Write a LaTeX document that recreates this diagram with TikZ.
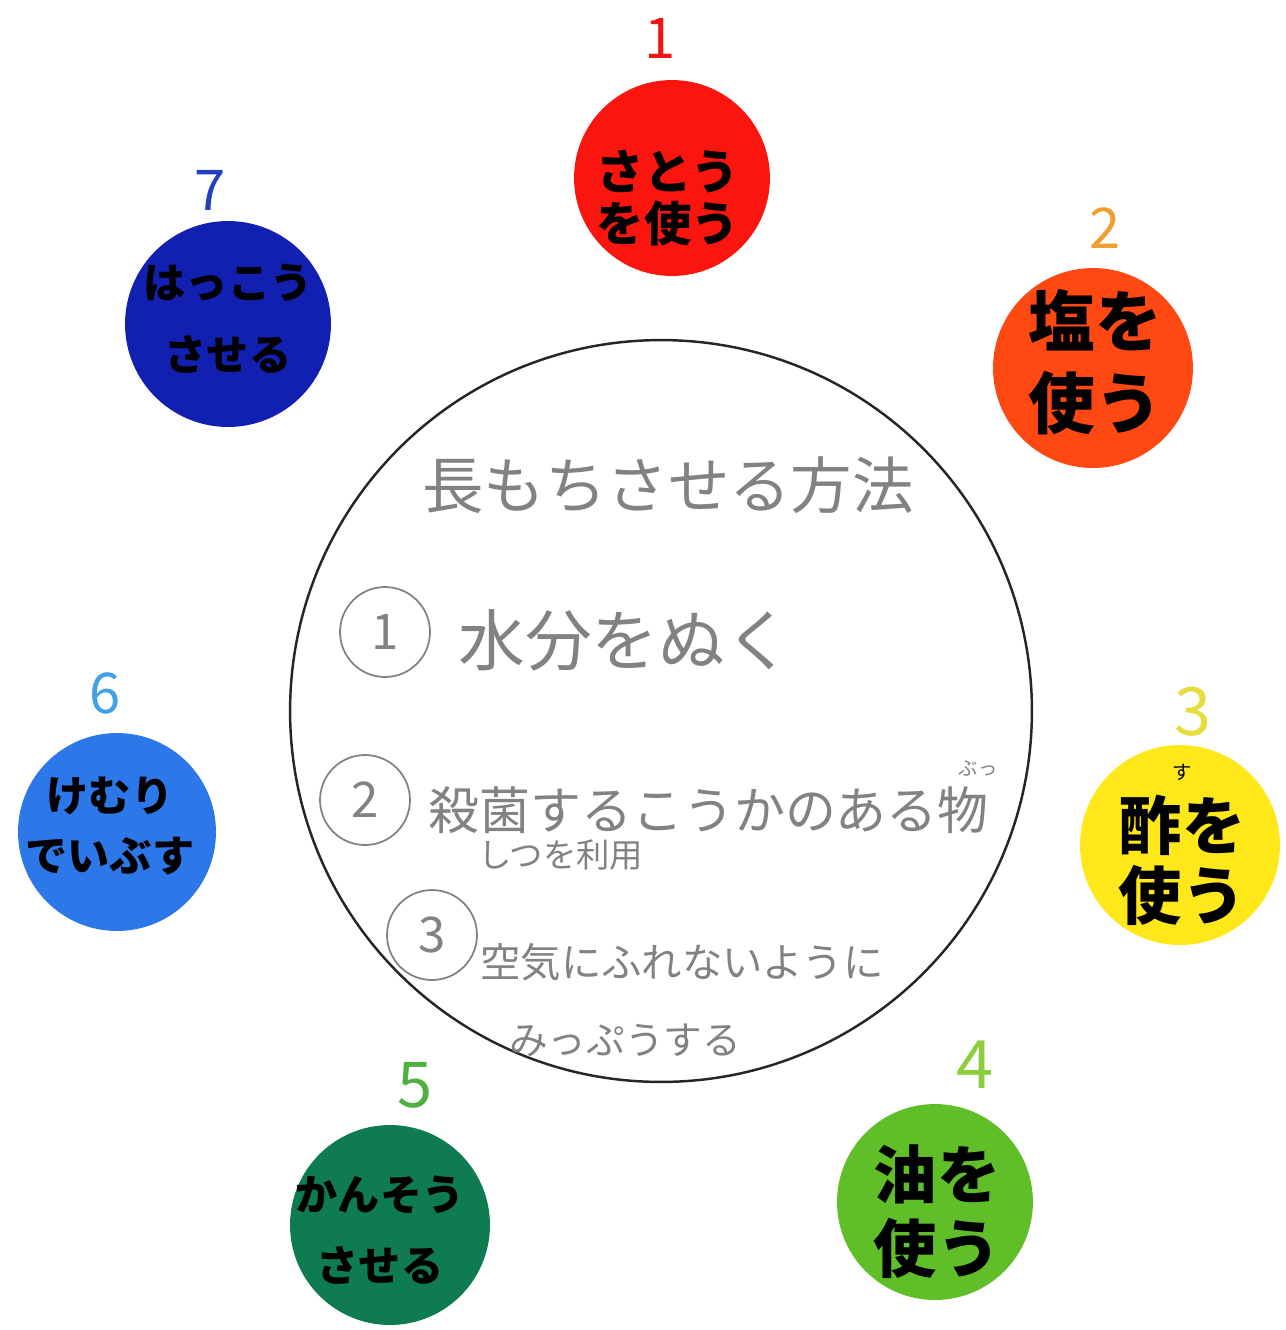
\documentclass[tikz,border=0pt]{standalone}
\usepackage{fontspec}
\newfontfamily\jp{Noto Sans CJK JP}
\definecolor{cRed}{RGB}{250,22,14}
\definecolor{cOrange}{RGB}{255,72,18}
\definecolor{cYellow}{RGB}{255,232,26}
\definecolor{cLime}{RGB}{96,190,40}
\definecolor{cDGreen}{RGB}{14,124,80}
\definecolor{cLBlue}{RGB}{44,120,232}
\definecolor{cDBlue}{RGB}{18,32,178}
\definecolor{nRed}{RGB}{240,20,20}
\definecolor{nOrange}{RGB}{240,160,50}
\definecolor{nYellow}{RGB}{230,220,60}
\definecolor{nLime}{RGB}{140,205,60}
\definecolor{nGreen}{RGB}{80,176,64}
\definecolor{nLBlue}{RGB}{64,160,232}
\definecolor{nBlue}{RGB}{32,64,192}
\definecolor{pencil}{RGB}{130,130,130}
\begin{document}
\begin{tikzpicture}[x=0.02cm,y=-0.02cm,
  blob/.style={circle,minimum size=#1*0.04cm,inner sep=0pt},
  blobtext/.style 2 args={font=\jp\bfseries\fontsize{#1}{#2}\selectfont,text=black,align=center,inner sep=0pt},
  numlab/.style={font=\jp\fontsize{32}{32}\selectfont,inner sep=0pt},
  ptext/.style={font=\jp\fontsize{#1}{#1}\selectfont,text=pencil,inner sep=0pt},
  pcirc/.style={circle,draw=pencil,line width=1pt,minimum size=1.8cm,inner sep=0pt,text=pencil,font=\jp\fontsize{28}{28}\selectfont}]
\useasboundingbox (0,0) rectangle (1286,1330);
\fill[white] (0,0) rectangle (1286,1330);
% central circle
\node[circle,draw=black!85,line width=1.4pt,minimum size=14.84cm,inner sep=0pt] (center) at (661,711) {};
% central texts
\node[ptext=35] (title) at (668,485) {長もちさせる方法};
\node[pcirc] (c1) at (385,632) {1};
\node[ptext=38,anchor=west] (t1) at (458,640) {水分をぬく};
\node[pcirc] (c2) at (365,800) {2};
\node[ptext=29,anchor=west] (t2) at (428,810) {殺菌するこうかのある物};
\node[ptext=11] (r2) at (978,768) {ぶっ};
\node[ptext=19,anchor=west] (t2b) at (478,855) {しつを利用};
\node[pcirc] (c3) at (432,935) {3};
\node[ptext=23,anchor=west] (t3) at (480,962) {空気にふれないように};
\node[ptext=22] (t3b) at (625,1040) {みっぷうする};
% outer blobs
\node[blob=98,fill=cRed] (b1) at (672,178) {};
\node[blobtext={27}{30}] (b1t) at (668,198) {さとう\\を使う};
\node[numlab,text=nRed] (n1) at (660,38) {1};

\node[blob=100,fill=cOrange] (b2) at (1093,368) {};
\node[blobtext={38}{47}] (b2t) at (1095,362) {塩を\\使う};
\node[numlab,text=nOrange] (n2) at (1105,228) {2};

\node[blob=100,fill=cYellow] (b3) at (1180,845) {};
\node[blobtext={36}{40}] (b3t) at (1182,860) {酢を\\使う};
\node[font=\jp\fontsize{11}{11}\selectfont] (b3r) at (1182,772) {す};
\node[numlab,text=nYellow,font=\jp\fontsize{38}{38}\selectfont] (n3) at (1193,712) {3};

\node[blob=98,fill=cLime] (b4) at (935,1202) {};
\node[blobtext={36}{42}] (b4t) at (937,1212) {油を\\使う};
\node[numlab,text=nLime,font=\jp\fontsize{38}{38}\selectfont] (n4) at (975,1065) {4};

\node[blob=100,fill=cDGreen] (b5) at (390,1225) {};
\node[blobtext={24}{40}] (b5t) at (380,1230) {かんそう\\させる};
\node[numlab,text=nGreen,font=\jp\fontsize{36}{36}\selectfont] (n5) at (415,1085) {5};

\node[blob=99,fill=cLBlue] (b6) at (117,832) {};
\node[blobtext={24}{34}] (b6t) at (110,826) {けむり\\でいぶす};
\node[numlab,text=nLBlue] (n6) at (105,693) {6};

\node[blob=103,fill=cDBlue] (b7) at (228,324) {};
\node[blobtext={24}{41}] (b7t) at (228,319) {はっこう\\させる};
\node[numlab,text=nBlue] (n7) at (210,190) {7};
\end{tikzpicture}
\end{document}
